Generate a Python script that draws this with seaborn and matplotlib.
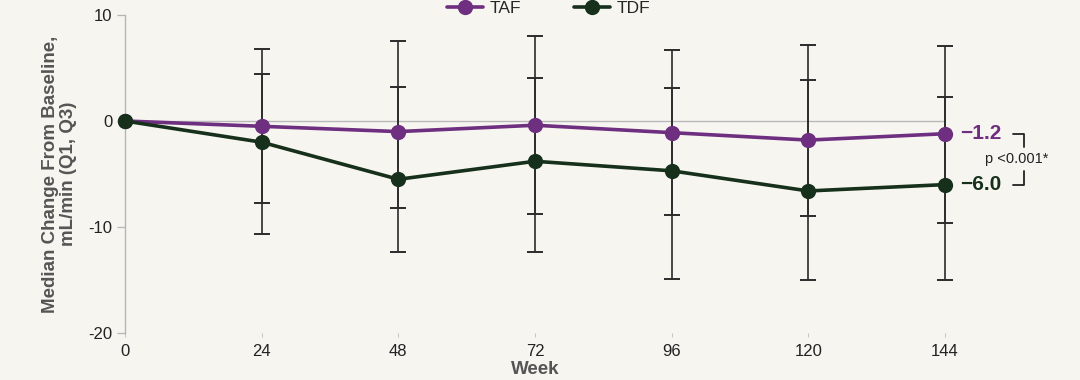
import numpy as np
import pandas as pd
import matplotlib
matplotlib.use("Agg")
import matplotlib.pyplot as plt
import matplotlib.transforms as mtransforms
import seaborn as sns

# Values
weeks = [0, 24, 48, 72, 96, 120, 144]
taf_median = [0, -0.5, -1.0, -0.4, -1.1, -1.8, -1.2]
taf_q1 = [0, -7.7, -8.2, -8.8, -8.9, -9.0, -9.6]
taf_q3 = [0, 6.8, 7.5, 8.0, 6.7, 7.2, 7.1]
tdf_median = [0, -2.0, -5.5, -3.8, -4.7, -6.6, -6.0]
tdf_q1 = [0, -10.7, -12.4, -12.4, -14.9, -15.0, -15.0]
tdf_q3 = [0, 4.4, 3.2, 4.1, 3.1, 3.9, 2.3]

groups = ["TAF", "TDF"]
end_labels = ["\u22121.2", "\u22126.0"]
p_label = "p <0.001*"

taf_color = "#6e2f80"
tdf_color = "#16301c"
bar_color = "#2b2b2b"
grey_text = "#555555"
bg = "#f7f5f0"

sns.set_theme(style="white")
plt.rcParams["font.family"] = ["Liberation Sans", "DejaVu Sans"]
plt.rcParams["axes.unicode_minus"] = False

df = pd.DataFrame({
    "week": weeks * 2,
    "median": taf_median + tdf_median,
    "group": ["TAF"] * len(weeks) + ["TDF"] * len(weeks),
})

fig = plt.figure(figsize=(10.8, 3.8), dpi=100, facecolor=bg)
ax = fig.add_axes([125 / 1080, 1 - 333 / 380, 820 / 1080, 318 / 380])
ax.set_facecolor(bg)

# zero reference line
ax.axhline(0, color="#b8b8b8", lw=1.0, zorder=1)

# error bars (Q1..Q3), skip baseline week
w = np.array(weeks[1:])
for med, q1, q3 in [(taf_median, taf_q1, taf_q3), (tdf_median, tdf_q1, tdf_q3)]:
    med = np.array(med[1:])
    err = [med - np.array(q1[1:]), np.array(q3[1:]) - med]
    eb = ax.errorbar(w, med, yerr=err, fmt="none", ecolor=bar_color,
                     elinewidth=1.2, capsize=5.5, capthick=1.4, zorder=2)
    for art in eb.lines[1] + eb.lines[2]:
        art.set_clip_on(False)

sns.lineplot(data=df, x="week", y="median", hue="group", hue_order=groups,
             palette=[taf_color, tdf_color], marker="o", markersize=11,
             markeredgewidth=0, linewidth=2.6, ax=ax, zorder=3, legend=False)
for ln in ax.lines:
    ln.set_clip_on(False)

ax.set_xlim(0, 144)
ax.set_ylim(-20, 10)
ax.set_xticks(weeks)
ax.set_yticks([-20, -10, 0, 10])

for s in ["top", "right", "bottom"]:
    ax.spines[s].set_visible(False)
ax.spines["left"].set_color("#b5b5b5")
ax.spines["left"].set_linewidth(1.0)
ax.tick_params(axis="y", length=6, width=0.9, color="#b5b5b5", pad=3,
               labelsize=12, labelcolor="#222222", left=True)
ax.tick_params(axis="x", length=3, width=0.8, color="#c8c8c8", pad=5,
               labelsize=12, labelcolor="#222222", bottom=True)

ax.set_xlabel("Week", fontsize=13.5, fontweight="bold", color=grey_text, labelpad=1)
ax.set_ylabel("Median Change From Baseline,\nmL/min (Q1, Q3)", fontsize=13.5,
              fontweight="bold", color=grey_text, labelpad=8, linespacing=1.1)

# legend at top
handles = [plt.Line2D([], [], color=c, marker="o", markersize=11, markeredgewidth=0, lw=2.6)
           for c in [taf_color, tdf_color]]
fig.legend(handles, groups, loc="center", bbox_to_anchor=(0.508, 0.977), ncol=2,
           frameon=False, fontsize=12.5, handlelength=2.1, handletextpad=0.4,
           columnspacing=3.0)

# end-of-line values and p-value bracket
trans = mtransforms.blended_transform_factory(ax.transAxes, ax.transData)
ax.text(1.018, taf_median[-1], end_labels[0], transform=trans,
        fontsize=15, fontweight="bold", color=taf_color, va="center", ha="left")
ax.text(1.018, tdf_median[-1], end_labels[1], transform=trans,
        fontsize=15, fontweight="bold", color=tdf_color, va="center", ha="left")
top, bot = taf_median[-1], tdf_median[-1]
mid = (top + bot) / 2
bx0, bx1 = 1.083, 1.096
kw = dict(transform=trans, color="#222222", lw=1.3, clip_on=False)
ax.plot([bx0, bx1, bx1], [top, top, mid + 1.1], **kw)
ax.plot([bx0, bx1, bx1], [bot, bot, mid - 1.1], **kw)
ax.text(bx1 - 0.008, mid, p_label, transform=trans, fontsize=10.5, color="#222222",
        va="center", ha="center")

fig.savefig("out.png", dpi=100, facecolor=bg)
